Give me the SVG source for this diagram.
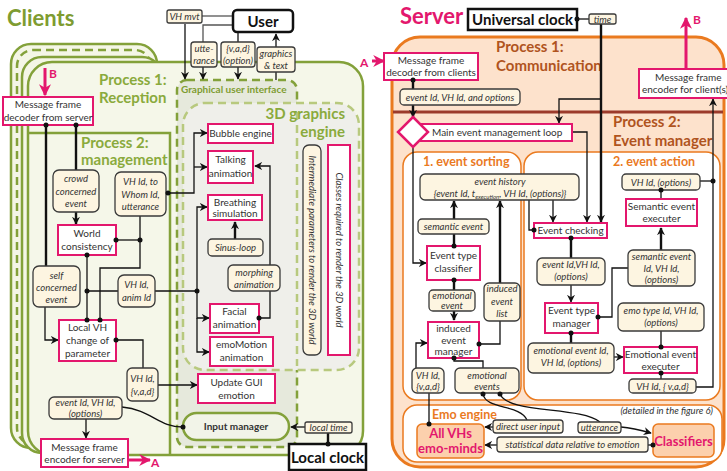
<svg xmlns="http://www.w3.org/2000/svg" width="727" height="471" viewBox="0 0 727 471">
<defs>
<style>
.t{font-family:Lato,"Liberation Sans",sans-serif;font-size:10px;fill:#333;text-anchor:middle}
.i{font-style:italic;font-size:9.5px}
.pk{fill:#fff;stroke:#e3176d;stroke-width:2}
.cr{fill:#fdf5e1;stroke:#3a3a3a;stroke-width:1.3}
.ln{stroke:#111;stroke-width:1.3;fill:none}
.lk{stroke:#111;stroke-width:2.4;fill:none}
.gr{stroke:#555;stroke-width:1.3;fill:none}
.pa{stroke:#e3176d;stroke-width:3;fill:none}
.gt{font-family:Lato,"Liberation Sans",sans-serif;font-weight:bold;font-size:15px;fill:#8aaa3c}
.ot{font-family:Lato,"Liberation Sans",sans-serif;font-weight:bold;font-size:15px;fill:#b0541e}
.st{font-family:Lato,"Liberation Sans",sans-serif;font-weight:bold;font-size:12.5px;fill:#ea7a1f}
.bx{fill:#fff;stroke:#111;stroke-width:2.5}
.bt{font-family:Lato,"Liberation Sans",sans-serif;font-weight:bold;font-size:15px;fill:#111;text-anchor:middle}
.em{fill:#fcd0ad;stroke:#ea7a1f;stroke-width:1.5}
.et{font-family:Lato,"Liberation Sans",sans-serif;font-weight:bold;font-size:13px;fill:#e3176d;text-anchor:middle}
</style>
<marker id="ar" viewBox="0 0 10 10" refX="9" refY="5" markerWidth="8" markerHeight="8" markerUnits="userSpaceOnUse" orient="auto"><path d="M0,0L10,5L0,10L3,5z" fill="#111"/></marker>
<marker id="ap" viewBox="0 0 10 10" refX="9" refY="5" markerWidth="12" markerHeight="12" markerUnits="userSpaceOnUse" orient="auto"><path d="M0,0L10,5L0,10L3,5z" fill="#e3176d"/></marker>
</defs>

<!-- ============ CLIENT SIDE ============ -->
<g id="clients-panels">
  <text x="7" y="26" font-family="Lato,'Liberation Sans',sans-serif" font-weight="bold" font-size="22" fill="#7e9c31">Clients</text>
  <rect x="11" y="44" width="146" height="404" rx="20" fill="#f4f6e6" stroke="#83a13a" stroke-width="2.5"/>
  <rect x="17" y="50" width="134" height="394" rx="16" fill="none" stroke="#83a13a" stroke-width="2.5" stroke-dasharray="8 5"/>
  <rect x="22" y="57" width="140" height="396" rx="20" fill="#f4f6e6" stroke="#83a13a" stroke-width="2.5"/>
  <rect x="28" y="62" width="335" height="393" rx="24" fill="#f5f7e9" stroke="#83a13a" stroke-width="2.5"/>
  <text class="gt" x="99" y="85">Process 1:</text>
  <text class="gt" x="99" y="103">Reception</text>
  <path d="M28,133 H170 V455" fill="none" stroke="#83a13a" stroke-width="2.5"/>
  <text class="gt" x="81" y="148">Process 2:</text>
  <text class="gt" x="81" y="165">management</text>
  <!-- GUI and 3D engine -->
  <rect x="177" y="80" width="120" height="367" rx="10" fill="#e6e9dc" stroke="#83a13a" stroke-width="2.5" stroke-dasharray="8 5"/>
  <text x="181" y="93" font-family="Lato,'Liberation Sans',sans-serif" font-weight="bold" font-size="10" fill="#7e9c31">Graphical user interface</text>
  <rect x="183" y="103" width="176" height="267" rx="22" fill="#efefea" stroke="#b8c97e" stroke-width="2.5" stroke-dasharray="8 5"/>
  <line x1="297" y1="112" x2="297" y2="366" stroke="#b8c97e" stroke-width="2.5" stroke-dasharray="8 5"/>
  <text class="gt" x="345" y="119" text-anchor="end" font-size="16">3D graphics</text>
  <text class="gt" x="345" y="137" text-anchor="end" font-size="16">engine</text>
</g>

<!-- ============ SERVER SIDE ============ -->
<g id="server-panels">
  <text x="400" y="24" font-family="Lato,'Liberation Sans',sans-serif" font-weight="bold" font-size="22" fill="#e3176d">Server</text>
  <rect x="392" y="37" width="332" height="430" rx="28" fill="#fde2cc" stroke="#ea7a1f" stroke-width="3"/>
  <line x1="393" y1="112" x2="723" y2="112" stroke="#9c3b2b" stroke-width="3"/>
  <text class="ot" x="496" y="52">Process 1:</text>
  <text class="ot" x="496" y="71">Communication</text>
  <text class="ot" x="613" y="127">Process 2:</text>
  <text class="ot" x="613" y="146">Event manager</text>
  <rect x="403" y="152" width="118" height="248" rx="14" fill="#fff" stroke="#ea7a1f" stroke-width="1.5"/>
  <text class="st" x="423" y="166">1. event sorting</text>
  <rect x="524" y="152" width="196" height="248" rx="14" fill="#fff" stroke="#ea7a1f" stroke-width="1.5"/>
  <text class="st" x="613" y="166">2. event action</text>
  <rect x="403" y="405" width="319" height="57" rx="14" fill="#fff" stroke="#ea7a1f" stroke-width="1.5"/>
  <text class="st" x="432" y="419">Emo engine</text>
  <text class="t i" x="713" y="414" font-size="7.5" fill="#555" style="text-anchor:end">(detailed in the figure 6)</text>
</g>

<!-- ============ CONNECTORS ============ -->
<g id="connectors">
  <!-- user side -->
  <path class="gr" d="M202,16 H233"/>
  <path class="ln" d="M185,24 V79" marker-end="url(#ar)"/>
  <path class="gr" d="M233,25 H203 V42"/>
  <path class="ln" d="M203,67 V79" marker-end="url(#ar)"/>
  <path class="ln" d="M238,33 V42"/>
  <path class="ln" d="M238,67 V79" marker-end="url(#ar)"/>
  <path class="ln" d="M276,80 V34" marker-end="url(#ar)"/>
  <!-- reception / management -->
  <path class="lk" d="M46,125 V266"/>
  <path class="lk" d="M76,125 V170"/>
  <path class="lk" d="M76,212 V224" marker-end="url(#ar)"/>
  <path class="ln" d="M140,216 V268 H100 V320"/>
  <path class="ln" d="M140,240 H116"/>
  <path class="ln" d="M166,193 H194 V133 H207" marker-end="url(#ar)"/>
  <path class="ln" d="M194,167 H207" marker-end="url(#ar)"/>
  <path class="ln" d="M87,255 V320"/>
  <path class="ln" d="M87,291 H197"/>
  <path class="ln" d="M197,291 V207 H207" marker-end="url(#ar)"/>
  <path class="ln" d="M197,291 V318 H209" marker-end="url(#ar)"/>
  <path class="ln" d="M197,318 V352 H209" marker-end="url(#ar)"/>
  <path class="lk" d="M235,239 V222" marker-end="url(#ar)"/>
  <path class="ln" d="M270,265 V166 H255" marker-end="url(#ar)"/>
  <path class="ln" d="M270,291 V318 H259"/>
  <path class="ln" d="M45,307 V340 H58" marker-end="url(#ar)"/>
  <path class="ln" d="M116,340 H143 V368"/>
  <path class="ln" d="M158,385 H197" marker-end="url(#ar)"/>
  <path class="ln" d="M86,419 V438" marker-end="url(#ar)"/>
  <path class="ln" d="M122,407 C152,410 158,427 183,427"/>
  <path class="ln" d="M305,427 H291" marker-end="url(#ar)"/>
  <path class="lk" d="M328,444 V433"/>
  <path class="pa" d="M45,68 V95" marker-end="url(#ap)"/>
  <path class="pa" d="M128,460 H150" marker-end="url(#ap)"/>

  <!-- server -->
  <path class="ln" d="M577,19 H589"/>
  <path class="lk" d="M601,24 V222" marker-end="url(#ar)"/>
  <path class="ln" d="M601,99 H559 V123" marker-end="url(#ar)"/>
  <path class="lk" d="M413,80 V117" marker-end="url(#ar)"/>
  <path class="pa" d="M372,61 H384" marker-end="url(#ap)"/>
  <path class="ln" d="M413,147 V263 H426" marker-end="url(#ar)"/>
  <path class="ln" d="M572,132 H587 V222" marker-end="url(#ar)"/>
  <path class="ln" d="M553,200 V222" marker-end="url(#ar)"/>
  <path class="ln" d="M529,200 V230 H534"/>
  <path class="lk" d="M454,246 V201" marker-end="url(#ar)"/>
  <path class="lk" d="M454,280 V320" marker-end="url(#ar)"/>
  <path class="lk" d="M500,283 V201" marker-end="url(#ar)"/>
  <path class="ln" d="M500,321 V344 H479"/>
  <path class="ln" d="M416,368 V343 H427" marker-end="url(#ar)"/>
  <path class="ln" d="M429,393 V424" stroke-width="3" stroke="#111"/>
  <path class="ln" d="M454,358 V361 H483 V368"/>
  <path class="ln" d="M483,394 C486,410 520,404 527,420"/>
  <path class="ln" d="M500,394 C508,414 580,406 600,422"/>
  <path class="ln" d="M493,427 H485" marker-end="url(#ar)"/>
  <path class="ln" d="M497,445 H485" marker-end="url(#ar)"/>
  <path class="ln" d="M621,427 C632,428 640,430 651,433" marker-end="url(#ar)"/>
  <path class="ln" d="M648,445 H653"/>
  <path class="lk" d="M571,238 V258"/>
  <path class="ln" d="M571,285 V302" marker-end="url(#ar)"/>
  <path class="ln" d="M598,317 H612 V268 H628"/>
  <path class="lk" d="M571,333 V343"/>
  <path class="ln" d="M614,357 H623" marker-end="url(#ar)"/>
  <path class="ln" d="M661,331 V347"/>
  <path class="ln" d="M661,373 V379"/>
  <path class="ln" d="M696,387 H713 V99" marker-end="url(#ar)"/>
  <path class="ln" d="M700,181 H713"/>
  <path class="ln" d="M661,190 V199"/>
  <path class="lk" d="M661,250 V228" marker-end="url(#ar)"/>
  <path class="pa" d="M686,69 V18" marker-end="url(#ap)"/>
</g>

<!-- ============ NODES : CLIENT ============ -->
<g id="user"><rect class="bx" x="233" y="10" width="60" height="22" rx="4"/><text class="bt" x="263" y="27" font-size="16">User</text></g>
<g id="vh-mvt"><rect class="cr" x="167" y="10" width="35" height="13" rx="2"/><text class="t i" x="184.5" y="20">VH mvt</text></g>
<g id="utterance-in"><rect class="cr" x="191" y="42" width="26" height="25" rx="3"/><text class="t i" x="204" y="52">utte-</text><text class="t i" x="204" y="64">rance</text></g>
<g id="vad-in"><rect class="cr" x="221" y="42" width="34" height="25" rx="3"/><text class="t i" x="238" y="52">{v,a,d}</text><text class="t i" x="238" y="64">(option)</text></g>
<g id="graphics-out"><rect class="cr" x="257" y="47" width="38" height="25" rx="3"/><text class="t i" x="276" y="57">graphics</text><text class="t i" x="276" y="69">&amp; text</text></g>

<g id="decoder-server"><rect class="pk" x="3" y="97" width="90" height="28"/><text class="t" x="48" y="108">Message frame</text><text class="t" x="48" y="121">decoder from server</text><text x="49" y="78" font-family="Lato,'Liberation Sans',sans-serif" font-weight="bold" font-size="12" fill="#e3176d">B</text></g>
<g id="crowd-event"><rect class="cr" x="53" y="170" width="46" height="42" rx="6"/><text class="t i" x="76" y="182">crowd</text><text class="t i" x="76" y="195">concerned</text><text class="t i" x="76" y="207">event</text></g>
<g id="vh-whom"><rect class="cr" x="115" y="172" width="51" height="44" rx="6"/><text class="t i" x="140.5" y="185">VH Id, to</text><text class="t i" x="140.5" y="198">Whom Id,</text><text class="t i" x="140.5" y="210">utterance</text></g>
<g id="world-consistency"><rect class="pk" x="58" y="225" width="58" height="30"/><text class="t" x="87" y="237">World</text><text class="t" x="87" y="250">consistency</text></g>
<g id="self-event"><rect class="cr" x="33" y="266" width="47" height="41" rx="6"/><text class="t i" x="56.5" y="279">self</text><text class="t i" x="56.5" y="291">concerned</text><text class="t i" x="56.5" y="303">event</text></g>
<g id="vh-anim"><rect class="cr" x="118" y="275" width="37" height="32" rx="6"/><text class="t i" x="136.5" y="288">VH Id,</text><text class="t i" x="136.5" y="301">anim Id</text></g>
<g id="local-change"><rect class="pk" x="59" y="320" width="57" height="41"/><text class="t" x="87.5" y="331">Local VH</text><text class="t" x="87.5" y="344">change of</text><text class="t" x="87.5" y="357">parameter</text></g>
<g id="vh-vad-client"><rect class="cr" x="127" y="368" width="31" height="33" rx="5"/><text class="t i" x="142.5" y="382">VH Id,</text><text class="t i" x="142.5" y="395">{v,a,d}</text></g>
<g id="event-options-client"><rect class="cr" x="49" y="397" width="73" height="22" rx="5"/><text class="t i" x="85.5" y="406">event Id, VH Id,</text><text class="t i" x="85.5" y="417">(options)</text></g>
<g id="encoder-server"><rect class="pk" x="41" y="439" width="87" height="28"/><text class="t" x="84.5" y="451">Message frame</text><text class="t" x="84.5" y="463">encoder for server</text><text x="151" y="467" font-family="Lato,'Liberation Sans',sans-serif" font-weight="bold" font-size="12" fill="#e3176d">A</text></g>

<g id="bubble"><rect class="pk" x="208" y="124" width="65" height="19"/><text class="t" x="240.5" y="137">Bubble engine</text></g>
<g id="talking"><rect class="pk" x="208" y="151" width="45" height="32"/><text class="t" x="230.5" y="163">Talking</text><text class="t" x="230.5" y="177">animation</text></g>
<g id="breathing"><rect class="pk" x="208" y="195" width="54" height="25"/><text class="t" x="235" y="206">Breathing</text><text class="t" x="235" y="217">simulation</text></g>
<g id="sinus"><rect class="cr" x="208" y="239" width="55" height="17" rx="4"/><text class="t i" x="235.5" y="251">Sinus-loop</text></g>
<g id="morphing"><rect class="cr" x="228" y="265" width="52" height="26" rx="5"/><text class="t i" x="254" y="276">morphing</text><text class="t i" x="254" y="288">animation</text></g>
<g id="facial"><rect class="pk" x="210" y="304" width="49" height="29"/><text class="t" x="234.5" y="315">Facial</text><text class="t" x="234.5" y="328">animation</text></g>
<g id="emomotion"><rect class="pk" x="210" y="337" width="63" height="29"/><text class="t" x="241.5" y="348">emoMotion</text><text class="t" x="241.5" y="361">animation</text></g>
<g id="intermediate"><rect class="cr" x="303" y="145" width="18" height="210" rx="6"/><text class="t i" font-size="10" transform="translate(309,250) rotate(90)">Intermediate parameters to render the 3D world</text></g>
<g id="classes"><rect class="pk" x="328" y="145" width="22" height="210"/><text class="t i" font-size="10.5" transform="translate(336,250) rotate(90)">Classes required to render the 3D world</text></g>
<g id="update-gui"><rect class="pk" x="198" y="374" width="77" height="29"/><text class="t" x="236.5" y="386">Update GUI</text><text class="t" x="236.5" y="399">emotion</text></g>
<g id="input-manager"><rect x="183" y="413" width="106" height="27" rx="13.5" fill="#f2f4e8" stroke="#83a13a" stroke-width="2.5"/><text class="t" x="236" y="430" font-weight="bold" fill="#777">Input manager</text></g>
<g id="local-time"><rect class="cr" x="305" y="422" width="47" height="11" rx="2"/><text class="t i" x="328.5" y="431" font-size="9">local time</text></g>
<g id="local-clock"><rect class="bx" x="289" y="444" width="77" height="26"/><text class="bt" x="327.5" y="463">Local clock</text></g>

<!-- ============ NODES : SERVER ============ -->
<g id="universal-clock"><rect class="bx" x="468" y="9" width="109" height="21"/><text class="bt" x="522.5" y="25">Universal clock</text></g>
<g id="time"><rect class="cr" x="589" y="14" width="27" height="10" rx="2"/><text class="t i" x="602.5" y="22.5" font-size="9">time</text></g>
<g id="decoder-clients"><rect class="pk" x="384" y="53" width="94" height="27"/><text class="t" x="431" y="64">Message frame</text><text class="t" x="431" y="76">decoder from clients</text><text x="360" y="67" font-family="Lato,'Liberation Sans',sans-serif" font-weight="bold" font-size="12" fill="#e3176d">A</text></g>
<g id="event-options-server"><rect class="cr" x="400" y="89" width="120" height="16" rx="4"/><text class="t i" x="460" y="100.5">event Id, VH Id, and options</text></g>
<g id="main-loop"><rect class="pk" x="420" y="124" width="152" height="17"/><path d="M413,117 L428,132 L413,147 L398,132 Z" fill="#fff" stroke="#e3176d" stroke-width="2.5"/><text class="t" x="432" y="136" style="text-anchor:start">Main event management loop</text></g>
<g id="encoder-clients"><rect class="pk" x="639" y="69" width="96" height="29"/><text class="t" x="655" y="81" style="text-anchor:start">Message frame</text><text class="t" x="642" y="93" font-size="8.5" style="text-anchor:start">encoder for client(s)</text><text x="693" y="24" font-family="Lato,'Liberation Sans',sans-serif" font-weight="bold" font-size="12" fill="#e3176d">B</text></g>
<g id="event-history"><rect class="cr" x="420" y="174" width="159" height="26" rx="5"/><text class="t i" x="500" y="185">event history</text><text class="t i" x="500" y="197">{event Id, t<tspan font-size="6" dy="2">execution</tspan><tspan dy="-2">, VH Id, (options)}</tspan></text></g>
<g id="semantic-event"><rect class="cr" x="418" y="219" width="71" height="15" rx="4"/><text class="t i" x="453.5" y="230">semantic event</text></g>
<g id="type-classifier"><rect class="pk" x="427" y="246" width="53" height="34"/><text class="t" x="453.5" y="259">Event type</text><text class="t" x="453.5" y="272">classifier</text></g>
<g id="emotional-event"><rect class="cr" x="429" y="290" width="46" height="21" rx="4"/><text class="t i" x="452" y="299">emotional</text><text class="t i" x="452" y="309">event</text></g>
<g id="induced-list"><rect class="cr" x="484" y="283" width="36" height="38" rx="5"/><text class="t i" x="502" y="292">induced</text><text class="t i" x="502" y="305">event</text><text class="t i" x="502" y="317">list</text></g>
<g id="induced-manager"><rect class="pk" x="428" y="322" width="51" height="36"/><text class="t" x="453.5" y="332">induced</text><text class="t" x="453.5" y="344">event</text><text class="t" x="453.5" y="355">manager</text></g>
<g id="vh-vad-server"><rect class="cr" x="412" y="368" width="32" height="25" rx="5"/><text class="t i" x="428" y="379">VH Id,</text><text class="t i" x="428" y="390">{v,a,d}</text></g>
<g id="emotional-events"><rect class="cr" x="455" y="368" width="64" height="25" rx="5"/><text class="t i" x="487" y="379">emotional</text><text class="t i" x="487" y="390">events</text></g>
<g id="event-checking"><rect class="pk" x="534" y="223" width="73" height="15"/><text class="t" x="570.5" y="234">Event checking</text></g>
<g id="event-vh-options"><rect class="cr" x="537" y="258" width="68" height="27" rx="5"/><text class="t i" x="571" y="268">event Id,VH Id,</text><text class="t i" x="571" y="280">(options)</text></g>
<g id="type-manager"><rect class="pk" x="545" y="303" width="53" height="30"/><text class="t" x="571.5" y="314">Event type</text><text class="t" x="571.5" y="327">manager</text></g>
<g id="emo-event-options"><rect class="cr" x="528" y="343" width="86" height="30" rx="5"/><text class="t i" x="571" y="354">emotional event Id,</text><text class="t i" x="571" y="366">VH Id, (options)</text></g>
<g id="vh-options"><rect class="cr" x="622" y="174" width="78" height="16" rx="4"/><text class="t i" x="661" y="185.5">VH Id, (options)</text></g>
<g id="semantic-executer"><rect class="pk" x="626" y="199" width="71" height="27"/><text class="t" x="661.5" y="210">Semantic event</text><text class="t" x="661.5" y="222">executer</text></g>
<g id="semantic-options"><rect class="cr" x="628" y="250" width="67" height="36" rx="5"/><text class="t i" x="661.5" y="260">semantic event</text><text class="t i" x="661.5" y="272">Id, VH Id,</text><text class="t i" x="661.5" y="283">(options)</text></g>
<g id="emo-type-options"><rect class="cr" x="618" y="303" width="86" height="28" rx="5"/><text class="t i" x="661" y="314">emo type Id, VH Id,</text><text class="t i" x="661" y="326">(options)</text></g>
<g id="emotional-executer"><rect class="pk" x="624" y="347" width="73" height="26"/><text class="t" x="660.5" y="358">Emotional event</text><text class="t" x="660.5" y="370">executer</text></g>
<g id="vh-vad-action"><rect class="cr" x="629" y="379" width="67" height="14" rx="4"/><text class="t i" x="662.5" y="390">VH Id, { v,a,d}</text></g>
<g id="emo-minds"><rect class="em" x="417" y="424" width="67" height="34" rx="5"/><text class="et" x="450.5" y="438">All VHs</text><text class="et" x="450.5" y="453">emo-minds</text></g>
<g id="classifiers"><rect class="em" x="653" y="424" width="61" height="33" rx="5"/><text class="et" x="683.5" y="446">Classifiers</text></g>
<g id="direct-input"><rect class="cr" x="493" y="420" width="70" height="13" rx="3"/><text class="t i" x="528" y="430">direct user input</text></g>
<g id="utterance-emo"><rect class="cr" x="578" y="422" width="43" height="11" rx="3"/><text class="t i" x="599.5" y="431">utterance</text></g>
<g id="statistical"><rect class="cr" x="497" y="437" width="151" height="15" rx="3"/><text class="t i" x="572.5" y="448">statistical data relative to emotion</text></g>

<!-- junction dots -->
<g id="junctions" fill="#111">
  <circle cx="46" cy="125" r="2.5"/><circle cx="76" cy="125" r="2.5"/>
  <circle cx="140" cy="240" r="2.5"/><circle cx="116" cy="240" r="2.5"/>
  <circle cx="168" cy="193" r="2.5"/>
  <circle cx="87" cy="255" r="2.5"/><circle cx="87" cy="291" r="2.5"/><circle cx="197" cy="291" r="2.5"/>
  <circle cx="87" cy="320" r="2.5"/><circle cx="100" cy="320" r="2.5"/>
  <circle cx="116" cy="340" r="2.5"/><circle cx="259" cy="318" r="2.5"/>
  <circle cx="183" cy="427" r="2.5"/><circle cx="328" cy="444" r="2.5"/>
  <circle cx="577" cy="19" r="2.5"/><circle cx="413" cy="80" r="2.5"/>
  <circle cx="534" cy="230" r="2.5"/><circle cx="454" cy="246" r="2.5"/><circle cx="454" cy="280" r="2.5"/>
  <circle cx="479" cy="344" r="2.5"/><circle cx="454" cy="358" r="2.5"/><circle cx="429" cy="424" r="2.5"/>
  <circle cx="483" cy="394" r="2.5"/><circle cx="500" cy="394" r="2.5"/><circle cx="653" cy="445" r="2.5"/>
  <circle cx="571" cy="238" r="2.5"/><circle cx="598" cy="317" r="2.5"/><circle cx="571" cy="333" r="2.5"/>
  <circle cx="661" cy="347" r="2.5"/><circle cx="661" cy="373" r="2.5"/><circle cx="713" cy="181" r="2.5"/>
  <circle cx="661" cy="190" r="2.5"/>
</g>
</svg>
